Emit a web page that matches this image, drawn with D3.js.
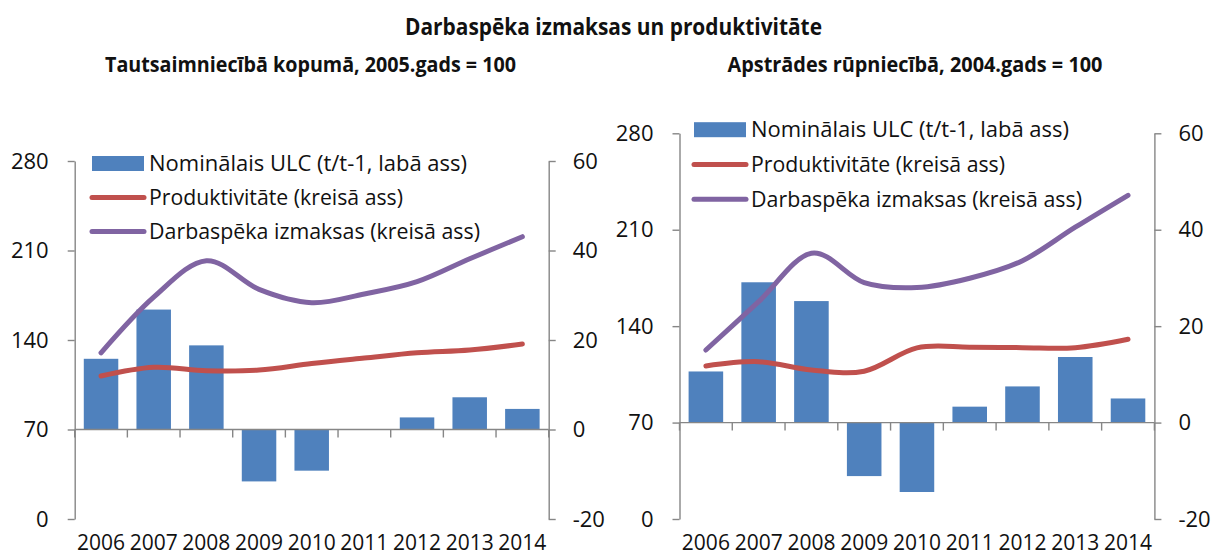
<!DOCTYPE html>
<html>
<head>
<meta charset="utf-8">
<script src="https://cdn.jsdelivr.net/npm/d3@7"></script>
<style>
  html, body { margin: 0; padding: 0; background: #fff; }
  svg { display: block; font-family: "Open Sans", "Noto Sans", sans-serif; }
</style>
</head>
<body>
<svg id="chart" width="1215" height="558"></svg>
<script>
// values
const years = ["2006", "2007", "2008", "2009", "2010", "2011", "2012", "2013", "2014"];
const leftTicks = [0, 70, 140, 210, 280];
const rightTicks = [-20, 0, 20, 40, 60];

// Tautsaimniecībā kopumā, 2005 = 100
const ulcTotal = [15.8, 26.8, 18.8, -11.6, -9.2, 0, 2.7, 7.2, 4.6];
const prodTotal = [111.8, 118.6, 116, 116.5, 121.6, 125.9, 130, 132.2, 136.8];
const costTotal = [130, 173.5, 202, 179.6, 169.2, 176, 185.6, 203.5, 220.8];

// Apstrādes rūpniecībā, 2004 = 100
const ulcManuf = [10.6, 29.1, 25.2, -11.1, -14.4, 3.3, 7.5, 13.6, 5.0];
const prodManuf = [111.1, 114.2, 108.2, 107.3, 124.2, 124.7, 124.4, 124.4, 130.5];
const costManuf = [122.7, 157.8, 192.9, 171.6, 168, 174.8, 187.5, 211.8, 235];

const legendLabels = [
  "Nominālais ULC (t/t-1, labā ass)",
  "Produktivitāte (kreisā ass)",
  "Darbaspēka izmaksas (kreisā ass)"
];
const legendWidths = [318, 254, 331];

const colors = { bar: "#4F81BD", prod: "#C0504D", cost: "#8064A2", axis: "#868686", text: "#111" };

const svg = d3.select("#chart");

// squeeze text to the width seen in the picture
function fitText(sel, width) {
  sel.attr("textLength", width).attr("lengthAdjust", "spacingAndGlyphs");
}

svg.append("text")
    .attr("x", 405).attr("y", 35)
    .attr("font-size", 24).attr("font-weight", "bold").attr("fill", colors.text)
    .text("Darbaspēka izmaksas un produktivitāte")
    .call(fitText, 417);

function drawPanel(opt) {
  const g = svg.append("g");

  const x = d3.scaleBand().domain(years).range([opt.x0, opt.x1]).paddingInner(0.345).paddingOuter(0.1725);
  const xEdge = d3.scaleBand().domain(years).range([opt.x0, opt.x1]);
  const yL = d3.scaleLinear().domain([0, 280]).range([opt.yBot, opt.yTop]);
  const yR = d3.scaleLinear().domain([-20, 60]).range([opt.yBot, opt.yTop]);

  // subtitle
  g.append("text")
      .attr("x", opt.subX).attr("y", 71.5)
      .attr("font-size", 22).attr("font-weight", "bold").attr("fill", colors.text)
      .text(opt.subtitle)
      .call(fitText, opt.subW);

  // bars (right axis)
  g.selectAll(".bar")
      .data(opt.ulc)
      .enter().append("rect")
      .attr("class", "bar")
      .attr("x", (d, i) => x(years[i]))
      .attr("width", x.bandwidth())
      .attr("y", d => yR(Math.max(0, d)))
      .attr("height", d => Math.abs(yR(d) - yR(0)))
      .attr("fill", colors.bar);

  // left axis
  const axL = g.append("g")
      .attr("transform", "translate(" + opt.x0 + ",0)")
      .call(d3.axisLeft(yL).tickValues(leftTicks).tickSize(7).tickPadding(19).tickSizeOuter(0));
  // right axis (plain hyphen for negatives, as in the original)
  const axR = g.append("g")
      .attr("transform", "translate(" + opt.x1 + ",0)")
      .call(d3.axisRight(yR).tickValues(rightTicks).tickFormat(d => String(d))
        .tickSize(7).tickPadding(17).tickSizeOuter(0));
  [axL, axR].forEach(a => {
    a.select(".domain").attr("stroke", colors.axis).attr("stroke-width", 1.4);
    a.selectAll(".tick line").attr("stroke", colors.axis).attr("stroke-width", 1.4);
    a.selectAll(".tick text").attr("font-size", 22).attr("fill", colors.text)
        .attr("font-family", "\"Open Sans\", sans-serif");
  });

  // category axis on the zero line of the right axis
  const zeroY = yR(0);
  g.append("line")
      .attr("x1", opt.x0).attr("x2", opt.x1)
      .attr("y1", zeroY).attr("y2", zeroY)
      .attr("stroke", colors.axis).attr("stroke-width", 1.4);
  const edges = years.map(d => xEdge(d)).concat([opt.x1]);
  g.selectAll(".xtick")
      .data(edges)
      .enter().append("line")
      .attr("class", "xtick")
      .attr("x1", d => d).attr("x2", d => d)
      .attr("y1", zeroY).attr("y2", zeroY + 8)
      .attr("stroke", colors.axis).attr("stroke-width", 1.4);
  g.selectAll(".xlabel")
      .data(years)
      .enter().append("text")
      .attr("class", "xlabel")
      .attr("x", d => x(d) + x.bandwidth() / 2)
      .attr("y", 550)
      .attr("text-anchor", "middle")
      .attr("font-size", 21).attr("fill", colors.text)
      .text(d => d);

  // smoothed lines (left axis)
  const line = d3.line()
      .x((d, i) => x(years[i]) + x.bandwidth() / 2)
      .y(d => yL(d))
      .curve(d3.curveCatmullRom.alpha(0));
  g.append("path").datum(opt.prod)
      .attr("d", line).attr("fill", "none")
      .attr("stroke", colors.prod).attr("stroke-width", 5).attr("stroke-linecap", "round");
  g.append("path").datum(opt.cost)
      .attr("d", line).attr("fill", "none")
      .attr("stroke", colors.cost).attr("stroke-width", 5).attr("stroke-linecap", "round");

  // legend
  const lg = g.append("g").attr("transform", "translate(" + opt.legX + "," + opt.legY + ")");
  lg.append("rect").attr("x", 0).attr("y", -7.5).attr("width", 52).attr("height", 15).attr("fill", colors.bar);
  lg.append("line").attr("x1", 0).attr("x2", 52).attr("y1", opt.legStep).attr("y2", opt.legStep)
      .attr("stroke", colors.prod).attr("stroke-width", 5).attr("stroke-linecap", "round");
  lg.append("line").attr("x1", 0).attr("x2", 52).attr("y1", opt.legStep * 2).attr("y2", opt.legStep * 2)
      .attr("stroke", colors.cost).attr("stroke-width", 5).attr("stroke-linecap", "round");
  lg.selectAll(".legtext")
      .data(legendLabels)
      .enter().append("text")
      .attr("class", "legtext")
      .attr("x", 57)
      .attr("y", (d, i) => i * opt.legStep + 7.5)
      .attr("font-size", 21).attr("fill", colors.text)
      .text(d => d)
      .each(function(d, i) { d3.select(this).call(fitText, legendWidths[i]); });
}

drawPanel({
  x0: 74.7, x1: 548.7, yTop: 161, yBot: 519,
  subtitle: "Tautsaimniecībā kopumā, 2005.gads = 100", subX: 105, subW: 411,
  ulc: ulcTotal, prod: prodTotal, cost: costTotal,
  legX: 92, legY: 163.5, legStep: 34
});

drawPanel({
  x0: 679.5, x1: 1154.4, yTop: 133.3, yBot: 519,
  subtitle: "Apstrādes rūpniecībā, 2004.gads = 100", subX: 727.5, subW: 375,
  ulc: ulcManuf, prod: prodManuf, cost: costManuf,
  legX: 694, legY: 129.7, legStep: 34.8
});
</script>
</body>
</html>
